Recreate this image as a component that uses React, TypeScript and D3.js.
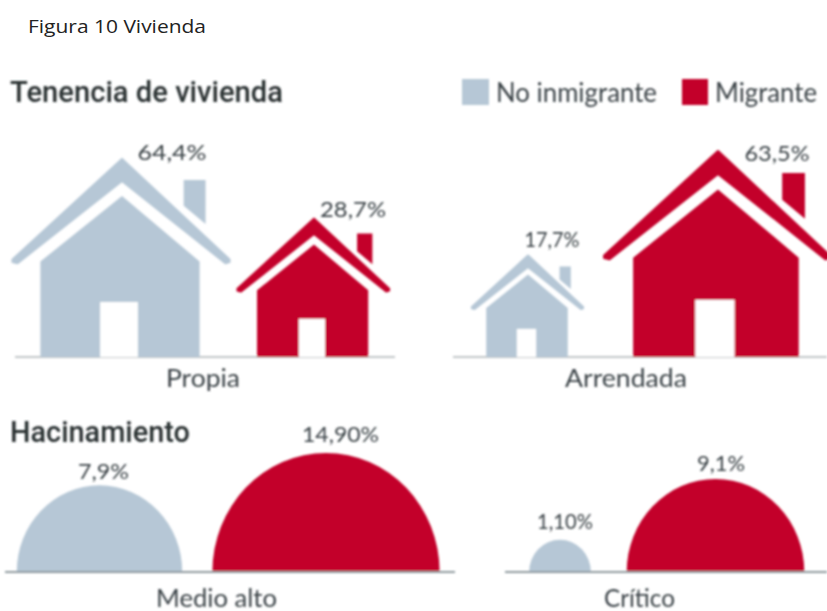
import React from "react";
import * as d3 from "d3";

// ---- data ----
const series = ["No inmigrante", "Migrante"];
const tenureCategories = ["Propia", "Arrendada"];
const noInmigranteTenure = [64.4, 17.7];
const migranteTenure = [28.7, 63.5];
const tenureLabels = ["64,4%", "28,7%", "17,7%", "63,5%"];
const crowdingCategories = ["Medio alto", "Crítico"];
const noInmigranteCrowding = [7.9, 1.1];
const migranteCrowding = [14.9, 9.1];
const crowdingLabels = ["7,9%", "14,90%", "1,10%", "9,1%"];

// ---- layout (separate from the data) ----
const W = 827;
const H = 611;
const GRAY = "#b6c7d6";
const RED = "#c3002c";
const INK = "#3a4246";
const houseBase = 357;
const domeBase = 572;
const houseCenters = [122, 314, 528, 718];
const domeCenters = [99.5, 326, 560, 715.5];
// each tenure panel has its own icon scale
const housePanelScales = [
  d3.scalePow().exponent(0.444).domain([0, 64.4]).range([0, 199]),
  d3.scalePow().exponent(0.555).domain([0, 63.5]).range([0, 207]),
];
const domeScale = d3.scaleSqrt().domain([0, 14.9]).range([0, 119]);
const DOME_ASPECT = 0.955;

// house silhouette in icon units (x relative to the apex, y above ground; height = 1)
type P = [number, number];
const roofShape: P[] = [[0, 0.995], [0.54, 0.49], [0.54, 0.478], [0.52, 0.472], [0, 0.885], [-0.525, 0.472], [-0.55, 0.478], [-0.55, 0.49]];
const bodyShape: P[] = [[0, 0.809], [0.39, 0.48], [0.39, 0], [-0.41, 0], [-0.41, 0.48]];
const doorShape: P[] = [[-0.11, 0], [-0.11, 0.276], [0.08, 0.276], [0.08, 0]];
const chimneyShape: P[] = [[0.31, 0.889], [0.42, 0.889], [0.42, 0.668], [0.31, 0.76]];

const tenureLabelPos: [number, number][] = [[172, 160], [353, 217], [552, 247], [777, 161]];
const tenureLabelWidths = [69, 66, 55, 65];
const crowdingLabelPos: [number, number][] = [[103.5, 479], [340.5, 442], [565, 529], [721, 471]];
const crowdingLabelWidths = [51, 77, 56, 48];
const categoryPos: [number, number, number][] = [[203, 387, 74], [626, 387, 122]];
const crowdingCatPos: [number, number, number][] = [[216.5, 607, 121], [639.5, 607, 71]];
const houseLines: [number, number][] = [[15, 395], [453, 827]];
const domeLines: [number, number][] = [[5, 455], [505, 827]];

const FONT = "Lato, 'Open Sans', sans-serif";

function shapePath(shape: P[], cx: number, h: number): string {
  const x = d3.scaleLinear().domain([0, 1]).range([cx, cx + h]);
  const y = d3.scaleLinear().domain([0, 1]).range([houseBase, houseBase - h]);
  return d3.line<P>().x((d) => x(d[0])).y((d) => y(d[1])).curve(d3.curveLinearClosed)(shape) as string;
}

function House({ value, cx, fill, scale }: { value: number; cx: number; fill: string; scale: (v: number) => number }) {
  const h = scale(value);
  return (
    <g>
      <path d={shapePath(chimneyShape, cx, h)} fill={fill} />
      <path d={shapePath(roofShape, cx, h)} fill={fill} stroke={fill} strokeWidth={2.2} strokeLinejoin="round" />
      <path d={shapePath(bodyShape, cx, h)} fill={fill} />
      <path d={shapePath(doorShape, cx, h)} fill="#fff" />
    </g>
  );
}

function Dome({ value, cx, fill }: { value: number; cx: number; fill: string }) {
  const r = domeScale(value);
  const d = d3.arc()({ innerRadius: 0, outerRadius: r, startAngle: -Math.PI / 2, endAngle: Math.PI / 2 }) as string;
  return <path d={d} fill={fill} transform={`translate(${cx},${domeBase}) scale(${DOME_ASPECT},1)`} />;
}

function T({ x, y, w, size, children, anchor = "middle", fill = INK, weight = 400, font = FONT }: any) {
  return (
    <text x={x} y={y} fontSize={size} textAnchor={anchor} fill={fill} fontFamily={font} fontWeight={weight}
      textLength={w} lengthAdjust="spacingAndGlyphs">
      {children}
    </text>
  );
}

export default function App() {
  const houseValues = [noInmigranteTenure[0], migranteTenure[0], noInmigranteTenure[1], migranteTenure[1]];
  const domeValues = [noInmigranteCrowding[0], migranteCrowding[0], noInmigranteCrowding[1], migranteCrowding[1]];
  return (
    <svg width={W} height={H} viewBox={`0 0 ${W} ${H}`} style={{ position: "absolute", left: 0, top: 0, display: "block", background: "#fff" }}>
      <defs>
        <filter id="soft" x="-2%" y="-2%" width="104%" height="104%">
          <feGaussianBlur stdDeviation="0.9" />
        </filter>
      </defs>
      <text x={28} y={33} fontSize={19} fill="#222" fontFamily="'Open Sans', sans-serif" textLength={178} lengthAdjust="spacingAndGlyphs">Figura 10 Vivienda</text>

      <g filter="url(#soft)">
        <T x={10} y={102} w={273} size={29} anchor="start" fill="#2a3033" weight={500} font="Roboto, sans-serif">Tenencia de vivienda</T>
        <rect x={462} y={79} width={27} height={26} fill={GRAY} />
        <T x={496} y={102} w={161} size={26} anchor="start">{series[0]}</T>
        <rect x={682} y={79} width={26} height={26} fill={RED} />
        <T x={715} y={102} w={102} size={26} anchor="start">{series[1]}</T>

        {houseLines.map(([a, b], i) => (
          <line key={i} x1={a} x2={b} y1={houseBase} y2={houseBase} stroke="#c2c6c8" strokeWidth={2} />
        ))}
        {houseValues.map((v, i) => (
          <House key={i} value={v} cx={houseCenters[i]} fill={i % 2 ? RED : GRAY} scale={housePanelScales[i < 2 ? 0 : 1] as any} />
        ))}
        {tenureLabels.map((t, i) => (
          <T key={t} x={tenureLabelPos[i][0]} y={tenureLabelPos[i][1]} w={tenureLabelWidths[i]} size={22}>{t}</T>
        ))}
        {tenureCategories.map((c, i) => (
          <T key={c} x={categoryPos[i][0]} y={categoryPos[i][1]} w={categoryPos[i][2]} size={25}>{c}</T>
        ))}

        <T x={10} y={442} w={180} size={29} anchor="start" fill="#2a3033" weight={500} font="Roboto, sans-serif">Hacinamiento</T>
        {domeValues.map((v, i) => (
          <Dome key={i} value={v} cx={domeCenters[i]} fill={i % 2 ? RED : GRAY} />
        ))}
        {domeLines.map(([a, b], i) => (
          <line key={i} x1={a} x2={b} y1={domeBase} y2={domeBase} stroke="#8f9a9f" strokeWidth={2} />
        ))}
        {crowdingLabels.map((t, i) => (
          <T key={t} x={crowdingLabelPos[i][0]} y={crowdingLabelPos[i][1]} w={crowdingLabelWidths[i]} size={22}>{t}</T>
        ))}
        {crowdingCategories.map((c, i) => (
          <T key={c} x={crowdingCatPos[i][0]} y={crowdingCatPos[i][1]} w={crowdingCatPos[i][2]} size={25}>{c}</T>
        ))}
      </g>
    </svg>
  );
}
